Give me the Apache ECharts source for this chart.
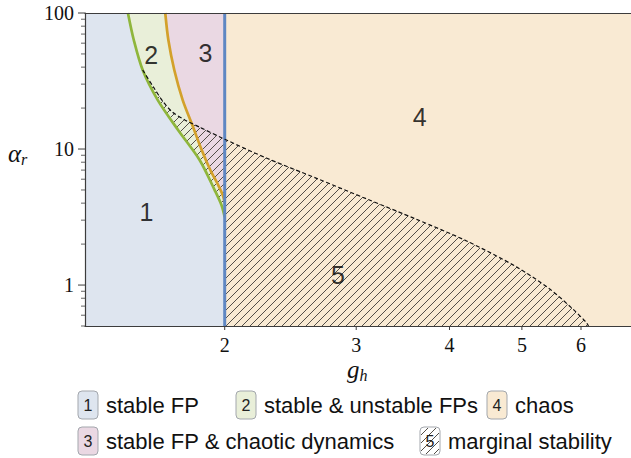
<!DOCTYPE html>
<html>
<head>
<meta charset="utf-8">
<script src="https://cdn.jsdelivr.net/npm/echarts@6/dist/echarts.min.js"></script>
<style>
  html, body { margin: 0; padding: 0; background: #ffffff; }
  #chart { width: 631px; height: 458px; }
</style>
</head>
<body>
<div id="chart"></div>
<script>
// Phase diagram of the network in the (g_h, alpha_r) plane.
const xRange = [1.3, 7];
const yRange = [0.5, 100];
const gCrit = 2;                       // vertical boundary at g_h = 2

// Region 1 | region 2 boundary (green)
const greenCurve = [[1.484, 100], [1.511, 63.3], [1.553, 38.1], [1.627, 22.9], [1.732, 13.8],
  [1.851, 8.30], [1.939, 4.99], [1.980, 3.88], [2.0, 3.16]];
// Region 2 | region 3 boundary (orange)
const orangeCurve = [[1.665, 100], [1.681, 63.3], [1.712, 38.1], [1.757, 22.9], [1.810, 15.0],
  [1.863, 9.83], [1.913, 7.01], [1.960, 5.44], [1.988, 4.59], [2.0, 4.01]];
// Upper edge of the marginal-stability region (dashed)
const marginalCurve = [[1.553, 38.1], [1.605, 28.6], [1.655, 22.2], [1.702, 18.7], [1.771, 16.3],
  [1.855, 14.4], [2.0, 11.8], [2.278, 8.55], [2.655, 6.09], [3.098, 4.30], [3.614, 3.04],
  [4.216, 2.11], [4.917, 1.36], [5.448, 0.935], [5.851, 0.666], [6.10, 0.530], [6.14, 0.5]];

// Region numbers and where they sit
const regionLabels = ['1', '2', '3', '4', '5'];
const regionLabelPos = [[1.571, 3.44], [1.595, 49], [1.884, 50.8], [3.65, 17.2], [2.835, 1.18]];

// Ticks
const xTickValues = [2, 3, 4, 5, 6];
const xTickLabels = ['2', '3', '4', '5', '6'];
const yMajorValues = [1, 10, 100];
const yMajorLabels = ['1', '10', '100'];
const yMinorValues = [0.5, 0.6, 0.7, 0.8, 0.9, 2, 3, 4, 5, 6, 7, 8, 9, 20, 30, 40, 50, 60, 70, 80, 90];

// Legend entries
const legendItems = [
  { key: '1', text: 'stable FP' },
  { key: '2', text: 'stable & unstable FPs' },
  { key: '4', text: 'chaos' },
  { key: '3', text: 'stable FP & chaotic dynamics' },
  { key: '5', text: 'marginal stability' }
];

const colors = {
  r1: '#dee5ef', r2: '#e9efd9', r3: '#ead8e3', r4: '#f9ead3',
  green: '#8fb63c', orange: '#d3a12b', blue: '#5f87c3', hatch: '#534e48', axis: '#3c3c3c'
};

function hatchTile(size, color) {
  const c = document.createElement('canvas');
  c.width = size; c.height = size;
  const ctx = c.getContext('2d');
  ctx.strokeStyle = color;
  ctx.lineWidth = 1;
  ctx.beginPath();
  ctx.moveTo(0, size); ctx.lineTo(size, 0);
  ctx.moveTo(-size / 2, size / 2); ctx.lineTo(size / 2, -size / 2);
  ctx.moveTo(size / 2, size * 1.5); ctx.lineTo(size * 1.5, size / 2);
  ctx.stroke();
  return c;
}
const hatchFill = { image: hatchTile(8, colors.hatch), repeat: 'repeat' };

// Region polygons assembled from the boundary curves
const region1 = [[xRange[0], yRange[1]]].concat(greenCurve, [[gCrit, yRange[0]], [xRange[0], yRange[0]]]);
const region2 = greenCurve.concat(orangeCurve.slice().reverse());
const region3 = orangeCurve.concat([[gCrit, yRange[1]]]);
const region4 = [[gCrit, yRange[0]], [xRange[1], yRange[0]], [xRange[1], yRange[1]], [gCrit, yRange[1]]];
const greenLower = greenCurve.filter(p => p[1] <= marginalCurve[0][1]);
const region5 = marginalCurve.concat([[gCrit, yRange[0]]], greenLower.slice().reverse());

function regionSeries(name, pts, fill, z) {
  return {
    type: 'custom', name: name, z: z, silent: true, clip: true,
    data: pts,
    renderItem: function (params, api) {
      if (params.dataIndex !== 0) return null;
      const points = pts.map(p => api.coord(p));
      return { type: 'polygon', shape: { points: points }, style: { fill: fill, stroke: null } };
    }
  };
}

function curveSeries(name, pts, color, width, z, dashed) {
  return {
    type: 'line', name: name, data: pts, z: z, smooth: 0.3, showSymbol: false, silent: true,
    lineStyle: { color: color, width: width, type: dashed ? [4, 2.5] : 'solid', cap: 'butt' },
    emphasis: { disabled: true }
  };
}

const serifFont = '"Liberation Serif", "DejaVu Serif", serif';
const sansFont = '"Liberation Sans", Arial, sans-serif';

const chart = echarts.init(document.getElementById('chart'), null, { renderer: 'svg' });

const axisLineStyle = { show: true, onZero: false, lineStyle: { color: colors.axis, width: 1.2 } };

const option = {
  animation: false,
  backgroundColor: '#ffffff',
  grid: { left: 85, right: 0, top: 13, bottom: 132, containLabel: false },
  xAxis: [
    { type: 'log', logBase: 10, min: xRange[0], max: xRange[1], z: 10,
      axisLine: axisLineStyle, axisTick: { show: false }, axisLabel: { show: false }, splitLine: { show: false } },
    { type: 'log', logBase: 10, min: xRange[0], max: xRange[1], position: 'top', z: 10,
      axisLine: axisLineStyle, axisTick: { show: false }, axisLabel: { show: false }, splitLine: { show: false } }
  ],
  yAxis: {
    type: 'log', logBase: 10, min: yRange[0], max: yRange[1], z: 10,
    axisLine: axisLineStyle, axisTick: { show: false }, axisLabel: { show: false }, splitLine: { show: false }
  },
  series: [
    regionSeries('region4', region4, colors.r4, 1),
    regionSeries('region3', region3, colors.r3, 1),
    regionSeries('region2', region2, colors.r2, 1),
    regionSeries('region1', region1, colors.r1, 1),
    regionSeries('region5', region5, hatchFill, 2),
    curveSeries('orange', orangeCurve, colors.orange, 2.7, 3, false),
    curveSeries('green', greenCurve, colors.green, 2.7, 3, false),
    curveSeries('blue', [[gCrit, yRange[0]], [gCrit, yRange[1]]], colors.blue, 3, 4, false),
    curveSeries('marginal', marginalCurve, '#111111', 1.2, 5, true),
    {
      type: 'scatter', name: 'labels', z: 6, silent: true, symbolSize: 0,
      data: regionLabelPos.map((p, i) => ({ value: p, name: regionLabels[i] })),
      label: { show: true, position: 'inside', formatter: '{b}', fontFamily: sansFont, fontSize: 25, color: '#000' }
    },
    {
      type: 'custom', name: 'xTicks', z: 11, silent: true, clip: false,
      data: xTickValues.map(v => [v, yRange[0]]),
      renderItem: function (params, api) {
        const p = api.coord([api.value(0), api.value(1)]);
        return { type: 'group', children: [
          { type: 'line', shape: { x1: p[0], y1: p[1], x2: p[0], y2: p[1] + 4 }, style: { stroke: colors.axis, lineWidth: 1 } },
          { type: 'text', x: p[0], y: p[1] + 19, style: { text: xTickLabels[params.dataIndex], align: 'center', verticalAlign: 'middle', font: '20px ' + serifFont, fill: '#111' } }
        ] };
      }
    },
    {
      type: 'custom', name: 'yMajorTicks', z: 11, silent: true, clip: false,
      data: yMajorValues.map(v => [xRange[0], v]),
      renderItem: function (params, api) {
        const p = api.coord([api.value(0), api.value(1)]);
        return { type: 'group', children: [
          { type: 'line', shape: { x1: p[0] - 7, y1: p[1], x2: p[0], y2: p[1] }, style: { stroke: colors.axis, lineWidth: 1 } },
          { type: 'text', x: p[0] - 11, y: p[1], style: { text: yMajorLabels[params.dataIndex], align: 'right', verticalAlign: 'middle', font: '20px ' + serifFont, fill: '#111' } }
        ] };
      }
    },
    {
      type: 'custom', name: 'yMinorTicks', z: 11, silent: true, clip: false,
      data: yMinorValues.map(v => [xRange[0], v]),
      renderItem: function (params, api) {
        const p = api.coord([api.value(0), api.value(1)]);
        return { type: 'line', shape: { x1: p[0] - 4, y1: p[1], x2: p[0], y2: p[1] }, style: { stroke: colors.axis, lineWidth: 0.8 } };
      }
    }
  ],
  graphic: []
};

// Axis titles
option.graphic.push({
  type: 'text', left: 8, top: 141, silent: true,
  style: { rich: { a: { font: 'italic 25px ' + serifFont, fill: '#111' }, s: { font: 'italic 16px ' + serifFont, fill: '#111', padding: [12, 0, 0, 0] } },
    text: '{a|α}{s|r}' }
});
option.graphic.push({
  type: 'text', left: 347, top: 357, silent: true,
  style: { rich: { a: { font: 'italic 25px ' + serifFont, fill: '#111' }, s: { font: 'italic 16px ' + serifFont, fill: '#111', padding: [12, 0, 0, 0] } },
    text: '{a|g}{s|h}' }
});

// Legend: numbered boxes followed by descriptions
const legendBoxFill = { '1': colors.r1, '2': colors.r2, '3': colors.r3, '4': colors.r4, '5': '#ffffff' };
const legendPos = [[78, 405], [236, 405], [487, 405], [78, 441], [420, 441]];
legendItems.forEach((item, i) => {
  const x = legendPos[i][0], y = legendPos[i][1];
  const children = [
    { type: 'rect', shape: { x: x, y: y - 14, width: 20, height: 28, r: 4 }, style: { fill: legendBoxFill[item.key], stroke: '#a3a7ad', lineWidth: 1 } }
  ];
  if (item.key === '5') {
    children.push({ type: 'rect', shape: { x: x + 1, y: y - 13, width: 18, height: 26, r: 3 }, style: { fill: hatchFill, stroke: null } });
  }
  children.push({ type: 'text', x: x + 10, y: y, style: { text: item.key, align: 'center', verticalAlign: 'middle', font: '16px ' + sansFont, fill: '#222' } });
  children.push({ type: 'text', x: x + 28, y: y, style: { text: item.text, align: 'left', verticalAlign: 'middle', font: '22px ' + sansFont, fill: '#111' } });
  option.graphic.push({ type: 'group', silent: true, children: children });
});

chart.setOption(option);
</script>
</body>
</html>
